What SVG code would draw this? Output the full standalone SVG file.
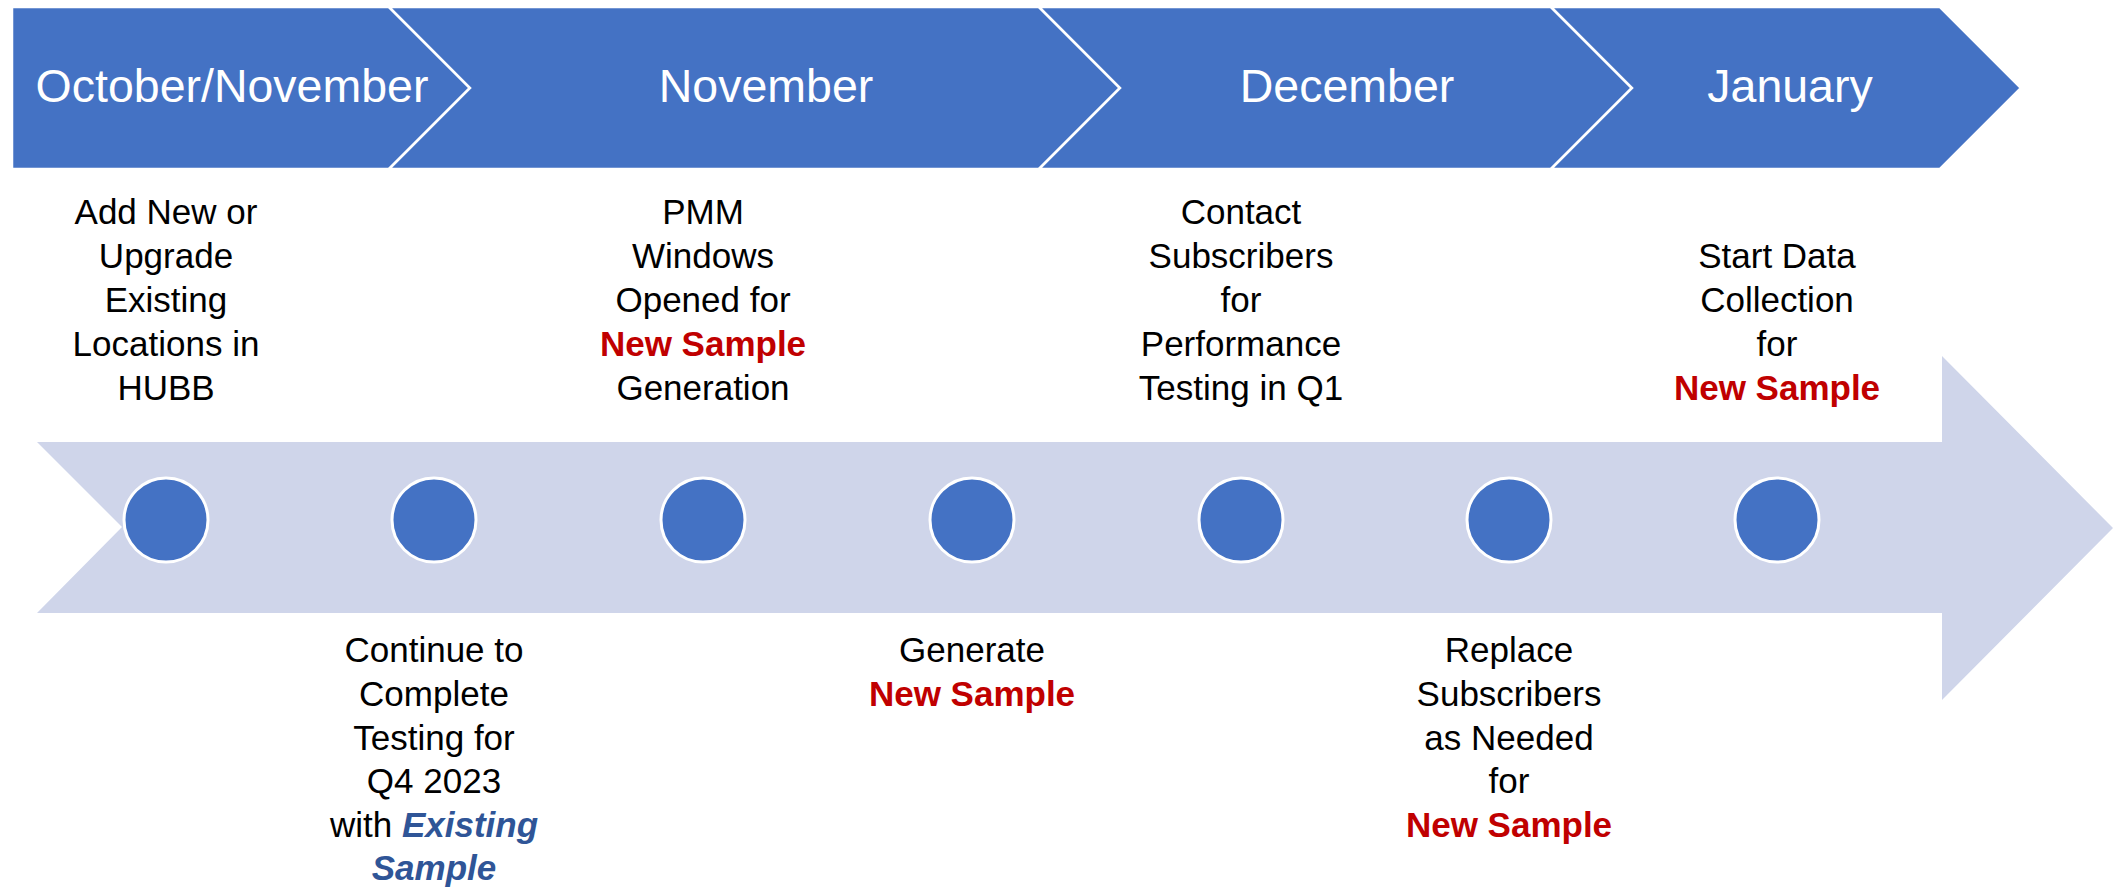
<svg xmlns="http://www.w3.org/2000/svg" width="2113" height="888" viewBox="0 0 2113 888">
<style>
.band{fill:#4472C4;stroke:#FFFFFF;stroke-width:2.5;stroke-linejoin:miter}
.hdr{font-family:"Liberation Sans",Arial,sans-serif;font-size:46.5px;fill:#FFFFFF;text-anchor:middle}
.dot{fill:#4472C4;stroke:#FFFFFF;stroke-width:3}
.lbl{font-family:"Liberation Sans",Arial,sans-serif;font-size:35px;fill:#000000;text-anchor:middle}
.red{fill:#C00000;font-weight:bold}
.blu{fill:#2F5597;font-weight:bold;font-style:italic}
</style>
<rect width="2113" height="888" fill="#FFFFFF"/>
<g id="timeline-arrow">
<polygon points="37,442 1942,442 1942,356 2113,528 1942,700 1942,613 37,613 122,527" fill="#CFD5EA"/>
</g>
<g id="phase-oct-nov">
<polygon class="band" points="12,7 389,7 470,88 389,169 12,169"/>
<text class="hdr" x="232" y="102">October/November</text>
</g>
<g id="phase-november">
<polygon class="band" points="389,7 1039,7 1120,88 1039,169 389,169 470,88"/>
<text class="hdr" x="766" y="102">November</text>
</g>
<g id="phase-december">
<polygon class="band" points="1039,7 1551,7 1632,88 1551,169 1039,169 1120,88"/>
<text class="hdr" x="1347" y="102">December</text>
</g>
<g id="phase-january">
<polygon class="band" points="1551,7 1940,7 2021,88 1940,169 1551,169 1632,88"/>
<text class="hdr" x="1790" y="102">January</text>
</g>
<g id="step-1">
<circle class="dot" cx="166" cy="520" r="42"/>
<text class="lbl" x="166" y="224">Add New or</text>
<text class="lbl" x="166" y="268">Upgrade</text>
<text class="lbl" x="166" y="312">Existing</text>
<text class="lbl" x="166" y="356">Locations in</text>
<text class="lbl" x="166" y="400">HUBB</text>
</g>
<g id="step-2">
<circle class="dot" cx="434" cy="520" r="42"/>
<text class="lbl" x="434" y="662">Continue to</text>
<text class="lbl" x="434" y="706">Complete</text>
<text class="lbl" x="434" y="750">Testing for</text>
<text class="lbl" x="434" y="793">Q4 2023</text>
<text class="lbl" x="434" y="837">with <tspan class="blu">Existing</tspan></text>
<text class="lbl blu" x="434" y="880">Sample</text>
</g>
<g id="step-3">
<circle class="dot" cx="703" cy="520" r="42"/>
<text class="lbl" x="703" y="224">PMM</text>
<text class="lbl" x="703" y="268">Windows</text>
<text class="lbl" x="703" y="312">Opened for</text>
<text class="lbl red" x="703" y="356">New Sample</text>
<text class="lbl" x="703" y="400">Generation</text>
</g>
<g id="step-4">
<circle class="dot" cx="972" cy="520" r="42"/>
<text class="lbl" x="972" y="662">Generate</text>
<text class="lbl red" x="972" y="706">New Sample</text>
</g>
<g id="step-5">
<circle class="dot" cx="1241" cy="520" r="42"/>
<text class="lbl" x="1241" y="224">Contact</text>
<text class="lbl" x="1241" y="268">Subscribers</text>
<text class="lbl" x="1241" y="312">for</text>
<text class="lbl" x="1241" y="356">Performance</text>
<text class="lbl" x="1241" y="400">Testing in Q1</text>
</g>
<g id="step-6">
<circle class="dot" cx="1509" cy="520" r="42"/>
<text class="lbl" x="1509" y="662">Replace</text>
<text class="lbl" x="1509" y="706">Subscribers</text>
<text class="lbl" x="1509" y="750">as Needed</text>
<text class="lbl" x="1509" y="793">for</text>
<text class="lbl red" x="1509" y="837">New Sample</text>
</g>
<g id="step-7">
<circle class="dot" cx="1777" cy="520" r="42"/>
<text class="lbl" x="1777" y="268">Start Data</text>
<text class="lbl" x="1777" y="312">Collection</text>
<text class="lbl" x="1777" y="356">for</text>
<text class="lbl red" x="1777" y="400">New Sample</text>
</g>
</svg>
